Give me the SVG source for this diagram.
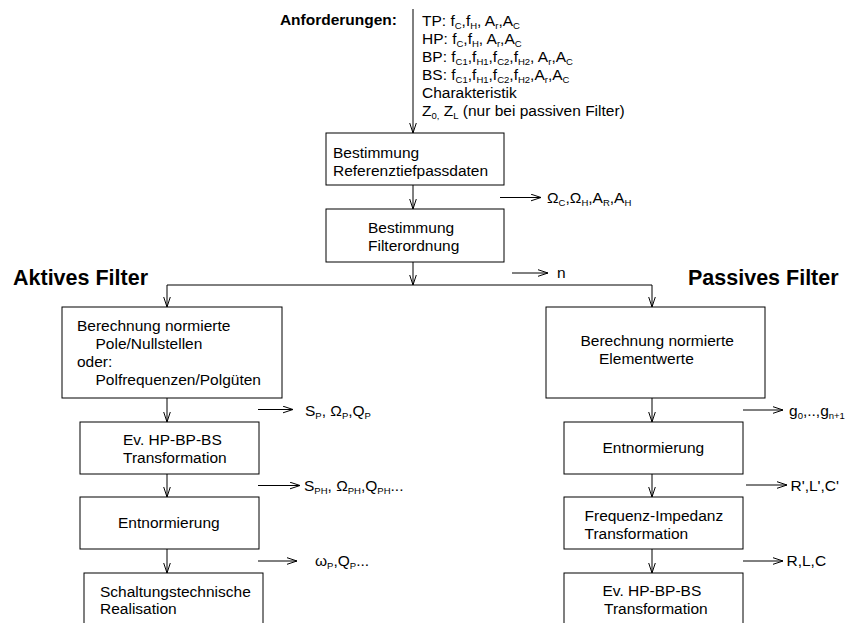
<svg xmlns="http://www.w3.org/2000/svg" width="846" height="623" viewBox="0 0 846 623">
<style>
text{font-family:"Liberation Sans",Arial,Helvetica,sans-serif;font-size:15.5px;fill:#000}
.b{font-weight:bold}
.h{font-weight:bold;font-size:21.5px}
.s{font-size:9.5px}
.box{fill:#fff;stroke:#000;stroke-width:1}
.c path{fill:none;stroke:#000;stroke-width:1}
</style>
<defs>
<marker id="ar" viewBox="0 0 10 8" refX="10" refY="4" markerWidth="10" markerHeight="8" markerUnits="userSpaceOnUse" orient="auto">
<path d="M0,0.7 L10,4 L0,7.3" fill="none" stroke="#000" stroke-width="1"/>
</marker>
</defs>
<rect width="846" height="623" fill="#fff"/>

<g id="labels">
<text class="b" x="397" y="25" text-anchor="end">Anforderungen:</text>
<text class="h" x="13" y="285">Aktives Filter</text>
<text class="h" x="688" y="285">Passives Filter</text>
</g>

<g id="requirements">
<text x="422" y="26">TP: f<tspan class="s" dy="3">C</tspan><tspan dy="-3">,f</tspan><tspan class="s" dy="3">H</tspan><tspan dy="-3">, A</tspan><tspan class="s" dy="3">r</tspan><tspan dy="-3">,A</tspan><tspan class="s" dy="3">C</tspan></text>
<text x="422" y="44">HP: f<tspan class="s" dy="3">C</tspan><tspan dy="-3">,f</tspan><tspan class="s" dy="3">H</tspan><tspan dy="-3">, A</tspan><tspan class="s" dy="3">r</tspan><tspan dy="-3">,A</tspan><tspan class="s" dy="3">C</tspan></text>
<text x="422" y="62">BP: f<tspan class="s" dy="3">C1</tspan><tspan dy="-3">,f</tspan><tspan class="s" dy="3">H1</tspan><tspan dy="-3">,f</tspan><tspan class="s" dy="3">C2</tspan><tspan dy="-3">,f</tspan><tspan class="s" dy="3">H2</tspan><tspan dy="-3">, A</tspan><tspan class="s" dy="3">r</tspan><tspan dy="-3">,A</tspan><tspan class="s" dy="3">C</tspan></text>
<text x="422" y="80">BS: f<tspan class="s" dy="3">C1</tspan><tspan dy="-3">,f</tspan><tspan class="s" dy="3">H1</tspan><tspan dy="-3">,f</tspan><tspan class="s" dy="3">C2</tspan><tspan dy="-3">,f</tspan><tspan class="s" dy="3">H2</tspan><tspan dy="-3">,A</tspan><tspan class="s" dy="3">r</tspan><tspan dy="-3">,A</tspan><tspan class="s" dy="3">C</tspan></text>
<text x="422" y="97.5">Charakteristik</text>
<text x="422" y="115.5">Z<tspan class="s" dy="3">0,</tspan><tspan dy="-3"> Z</tspan><tspan class="s" dy="3">L</tspan><tspan dy="-3"> (nur bei passiven Filter)</tspan></text>
</g>

<g id="n1">
<rect class="box" x="326" y="133" width="178" height="52"/>
<text x="333" y="158">Bestimmung</text>
<text x="333" y="175.5">Referenztiefpassdaten</text>
</g>
<g id="n2">
<rect class="box" x="326" y="209" width="178" height="53"/>
<text x="368" y="233">Bestimmung</text>
<text x="368" y="250.5">Filterordnung</text>
</g>

<g id="a1">
<rect class="box" x="62" y="307" width="220" height="91"/>
<text x="77" y="331">Berechnung normierte</text>
<text x="95.5" y="349">Pole/Nullstellen</text>
<text x="77" y="367">oder:</text>
<text x="95.5" y="385">Polfrequenzen/Polgüten</text>
</g>
<g id="a2">
<rect class="box" x="80" y="422" width="179" height="52"/>
<text x="123" y="445">Ev. HP-BP-BS</text>
<text x="123" y="463">Transformation</text>
</g>
<g id="a3">
<rect class="box" x="80" y="497" width="179" height="52"/>
<text x="118" y="528">Entnormierung</text>
</g>
<g id="a4">
<rect class="box" x="84" y="573" width="179" height="60"/>
<text x="100" y="596.5">Schaltungstechnische</text>
<text x="100" y="614">Realisation</text>
</g>

<g id="p1">
<rect class="box" x="546" y="307" width="219" height="91"/>
<text x="580.5" y="346">Berechnung normierte</text>
<text x="599" y="364">Elementwerte</text>
</g>
<g id="p2">
<rect class="box" x="564" y="422" width="179" height="52"/>
<text x="602.5" y="452.5">Entnormierung</text>
</g>
<g id="p3">
<rect class="box" x="564" y="497" width="179" height="52"/>
<text x="584.5" y="520.5">Frequenz-Impedanz</text>
<text x="584.5" y="538.5">Transformation</text>
</g>
<g id="p4">
<rect class="box" x="564" y="573" width="179" height="60"/>
<text x="602.5" y="596">Ev. HP-BP-BS</text>
<text x="604" y="614">Transformation</text>
</g>

<g id="outputs">
<text x="547" y="203">Ω<tspan class="s" dy="3">C</tspan><tspan dy="-3">,Ω</tspan><tspan class="s" dy="3">H</tspan><tspan dy="-3">,A</tspan><tspan class="s" dy="3">R</tspan><tspan dy="-3">,A</tspan><tspan class="s" dy="3">H</tspan></text>
<text x="557" y="278">n</text>
<text x="305" y="415.5">S<tspan class="s" dy="3">P</tspan><tspan dy="-3">, Ω</tspan><tspan class="s" dy="3">P</tspan><tspan dy="-3">,Q</tspan><tspan class="s" dy="3">P</tspan></text>
<text x="304" y="490.5">S<tspan class="s" dy="3">PH</tspan><tspan dy="-3">, Ω</tspan><tspan class="s" dy="3">PH</tspan><tspan dy="-3">,Q</tspan><tspan class="s" dy="3">PH</tspan><tspan dy="-3">...</tspan></text>
<text x="315" y="565.5">ω<tspan class="s" dy="3">P</tspan><tspan dy="-3">,Q</tspan><tspan class="s" dy="3">P</tspan><tspan dy="-3">...</tspan></text>
<text x="789" y="415.5">g<tspan class="s" dy="3">0</tspan><tspan dy="-3">,..,g</tspan><tspan class="s" dy="3">n+1</tspan></text>
<text x="790.5" y="490.5">R',L',C'</text>
<text x="786.5" y="566">R,L,C</text>
</g>

<g id="connectors" class="c">
<path d="M413,9 V133" marker-end="url(#ar)"/>
<path d="M413,185 V209" marker-end="url(#ar)"/>
<path d="M413,262 V285" marker-end="url(#ar)"/>
<path d="M167,285 H652"/>
<path d="M167,285 V307" marker-end="url(#ar)"/>
<path d="M652,285 V307" marker-end="url(#ar)"/>
<path d="M167,398 V422" marker-end="url(#ar)"/>
<path d="M167,474 V497" marker-end="url(#ar)"/>
<path d="M167,549 V573" marker-end="url(#ar)"/>
<path d="M652,398 V422" marker-end="url(#ar)"/>
<path d="M652,474 V497" marker-end="url(#ar)"/>
<path d="M652,549 V573" marker-end="url(#ar)"/>
<path d="M500,197.5 H541" marker-end="url(#ar)"/>
<path d="M512,273 H548" marker-end="url(#ar)"/>
<path d="M258,409.5 H293" marker-end="url(#ar)"/>
<path d="M258,485.5 H300" marker-end="url(#ar)"/>
<path d="M258,561 H297" marker-end="url(#ar)"/>
<path d="M743,410 H783" marker-end="url(#ar)"/>
<path d="M746,485 H787" marker-end="url(#ar)"/>
<path d="M743,561 H783" marker-end="url(#ar)"/>
</g>
</svg>
